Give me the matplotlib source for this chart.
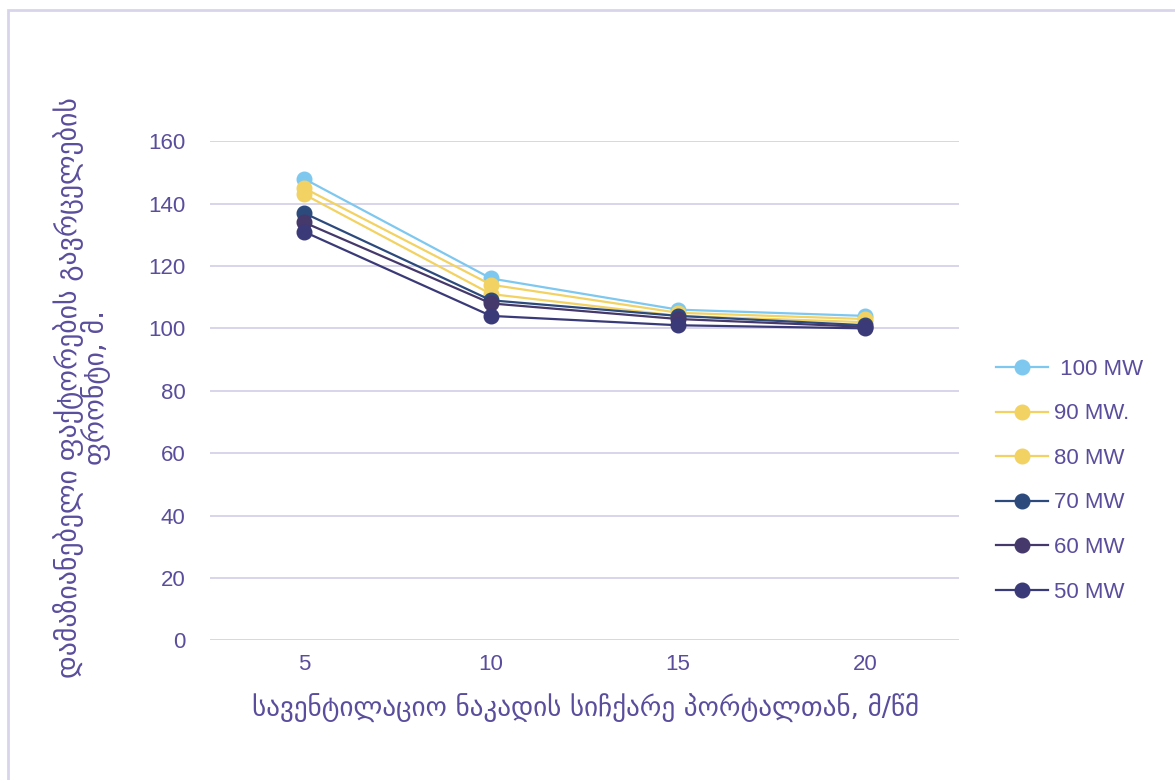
import numpy as np
import matplotlib.pyplot as plt

plt.rcParams['font.family'] = ['Liberation Sans', 'DejaVu Sans']

speeds = ['5', '10', '15', '20']
series_names = [' 100 MW', '90 MW.', '80 MW', '70 MW', '60 MW', '50 MW']
mw100 = [148, 116, 106, 104]
mw90 = [145, 114, 105, 103]
mw80 = [143, 111, 104, 102]
mw70 = [137, 109, 104, 101]
mw60 = [134, 108, 103, 100.5]
mw50 = [131, 104, 101, 100]
yticks = [0, 20, 40, 60, 80, 100, 120, 140, 160]

colors = ['#7ec8f0', '#f2d262', '#f2d262', '#2c4a7c', '#45386a', '#3b3a78']
txt = '#5a4e9c'
grid = '#d6d2ea'

fig = plt.figure(figsize=(11.75, 7.8), dpi=100)
ax = fig.add_axes([0.179, 0.179, 0.637, 0.64])

x = np.arange(len(speeds))
all_series = [mw100, mw90, mw80, mw70, mw60, mw50]
for vals, name, c in zip(all_series, series_names, colors):
    ax.plot(x, vals, color=c, lw=1.6, marker='o', ms=10.5, label=name, zorder=3)

ax.set_xlim(-0.5, 3.5)
ax.set_ylim(0, 160)
ax.set_yticks(yticks)
ax.set_xticks(x)
ax.set_xticklabels(speeds)
ax.yaxis.grid(True, color=grid, lw=1.3)
ax.set_axisbelow(True)
for s in ax.spines.values():
    s.set_visible(False)
ax.tick_params(length=0, labelsize=16, colors=txt)
ax.tick_params(axis='x', pad=10)
ax.tick_params(axis='y', pad=18)

ax.set_xlabel('სავენტილაციო ნაკადის სიჩქარე პორტალთან, მ/წმ',
              fontsize=19.5, color=txt, family=['DejaVu Sans'])
ax.xaxis.set_label_coords(0.501, -0.107)
ax.set_ylabel('დამაზიანებელი ფაქტორების გავრცელების\nფრონტი, მ.',
              fontsize=20, color=txt, family=['DejaVu Sans'], linespacing=0.82)
ax.yaxis.set_label_coords(-0.134, 0.507)

leg = ax.legend(loc='center left', bbox_to_anchor=(1.023, 0.32), frameon=False,
                fontsize=16, handlelength=2.35, handletextpad=0.25,
                labelspacing=1.06, labelcolor=txt)

# light frame around the chart
fig.add_artist(plt.Rectangle((0.007, -0.02), 1.02, 1.007, transform=fig.transFigure,
                             fill=False, edgecolor='#d8d5ea', lw=2))

fig.savefig('out.png', dpi=100)
